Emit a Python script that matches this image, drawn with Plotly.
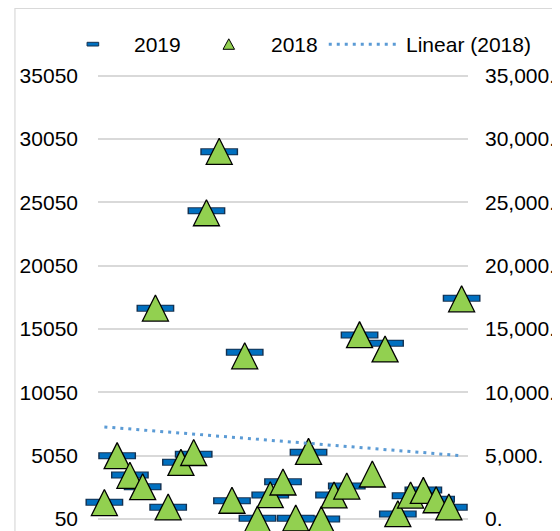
import plotly.graph_objects as go
import numpy as np

# ---------------- data ----------------
categories = list(range(1, 30))

# 2018 series (primary / left axis scale)
values_2018 = [1350, 5050, 3500, 2600, 16700, 1000, 4520, 5300, 24220, 29070,
               1530, 12930, 50, 1970, 2970, 130, 5390, 0, 1950, 2650,
               14600, 3600, 13470, 470, 1940, 2310, 1570, 1000, 17430]

# 2019 series (left axis scale)
values_2019 = [1370, 5050, 3520, 2600, 16680, 970, 4530, 5160, 24380, 29040,
               1490, 13210, 110, 1940, 2990, 110, 5310, 50, 1950, 2650,
               14570, None, 13920, 450, 1890, 2340, 1610, 970, 17470]

left_ticks = [50, 5050, 10050, 15050, 20050, 25050, 30050, 35050]
left_labels = ["50", "5050", "10050", "15050", "20050", "25050", "30050", "35050"]
right_ticks = [0, 5000, 10000, 15000, 20000, 25000, 30000, 35000]
right_labels = ["0.", "5,000.", "10,000.", "15,000.", "20,000.", "25,000.", "30,000.", "35,000."]

legend_names = ["2019", "2018", "Linear (2018)"]

# linear trendline of the 2018 series
slope, intercept = np.polyfit(categories, values_2018, 1)
trend_x = [categories[0], categories[-1]]
trend_y = [slope * x + intercept for x in trend_x]

# ---------------- layout geometry ----------------
OFF = 8                      # page body margin of the written html
W, H = 620, 580              # larger than the window: the picture is cropped by it
ML, MT = 96 - OFF, 70 - OFF
plot_w, plot_h = 372, 461
MR = W - ML - plot_w
MB = H - MT - plot_h
y_lo, y_hi = -897, 35485           # left axis range
px_per_unit = plot_h / (y_hi - y_lo)
tri_size = 26
tri_shift = (tri_size / 2) / px_per_unit   # centre the apex-anchored triangle

FONT = "Liberation Sans, Arial, sans-serif"
FS = 21
BLUE = "#0070C0"
NAVY = "#14304F"
GREEN = "#92D050"
TREND = "#5B9BD5"
GRID = "#D9D9D9"


def px(xp):
    """screen x (reference picture) -> paper x"""
    return (xp - OFF - ML) / plot_w


def py(yp):
    """screen y (reference picture) -> paper y"""
    return (MT + plot_h - (yp - OFF)) / plot_h


fig = go.Figure()

# 2019 dash markers (outline + fill)
fig.add_trace(go.Scatter(
    x=categories, y=values_2019, mode="markers", name=legend_names[0],
    yaxis="y", showlegend=False, cliponaxis=False,
    marker=dict(symbol="line-ew", size=27, color=NAVY,
                line=dict(width=7, color=NAVY))))
fig.add_trace(go.Scatter(
    x=categories, y=values_2019, mode="markers", name=legend_names[0],
    yaxis="y", showlegend=False, cliponaxis=False,
    marker=dict(symbol="line-ew", size=25, color=BLUE,
                line=dict(width=5, color=BLUE))))

# empty trace so that the secondary (right) axis is drawn
fig.add_trace(go.Scatter(x=[None], y=[None], yaxis="y2", mode="markers",
                         showlegend=False, hoverinfo="skip"))

# 2018 triangles
fig.add_trace(go.Scatter(
    x=categories, y=values_2018, mode="markers", name=legend_names[1],
    yaxis="y3", showlegend=False, cliponaxis=False,
    marker=dict(symbol="arrow-up", size=tri_size, color=GREEN,
                line=dict(width=1.3, color="#000000"))))

# trendline
fig.add_trace(go.Scatter(
    x=trend_x, y=trend_y, mode="lines", name=legend_names[2],
    yaxis="y4", showlegend=False,
    line=dict(color=TREND, width=3, dash="3px,5px")))

fig.update_layout(
    width=W, height=H, autosize=False,
    margin=dict(l=ML, r=MR, t=MT, b=MB, pad=0),
    paper_bgcolor="white", plot_bgcolor="white",
    showlegend=False,
    font=dict(family=FONT, size=FS, color="#000000"),
    xaxis=dict(range=[0.5, 29.5], visible=False, showgrid=False, zeroline=False),
    yaxis=dict(range=[y_lo, y_hi], tickvals=left_ticks, ticktext=left_labels,
               showgrid=True, gridcolor=GRID, gridwidth=1.5, zeroline=False,
               showline=False, ticks="", ticklabelstandoff=19,
               ticklabeloverflow="allow",
               tickfont=dict(family=FONT, size=FS, color="#000000")),
    yaxis2=dict(range=[y_lo - 50, y_hi - 50], tickvals=right_ticks, ticktext=right_labels,
                overlaying="y", side="right", anchor="x",
                showgrid=False, zeroline=False, showline=False, ticks="",
                ticklabelstandoff=16, ticklabeloverflow="allow",
                tickfont=dict(family=FONT, size=FS, color="#000000")),
    yaxis3=dict(range=[y_lo - tri_shift, y_hi - tri_shift], overlaying="y",
                anchor="x", visible=False),
    yaxis4=dict(range=[y_lo, y_hi], overlaying="y", anchor="x", visible=False),
)

# chart-area border
fig.add_shape(type="rect", xref="paper", yref="paper", layer="below",
              x0=px(12.5), x1=px(600), y0=py(600), y1=py(8.5),
              line=dict(color=GRID, width=1.2), fillcolor="rgba(0,0,0,0)")

# legend glyphs
fig.add_shape(type="rect", xref="paper", yref="paper",
              x0=px(85), x1=px(96.7), y0=py(46), y1=py(42.3),
              line=dict(color=NAVY, width=1), fillcolor=BLUE)
fig.add_shape(type="path", xref="paper", yref="paper",
              path="M {} {} L {} {} L {} {} Z".format(px(221.7), py(49.3), px(233.3), py(49.3),
                                                    px(227.5), py(38.8)),
              line=dict(color="#000000", width=1), fillcolor=GREEN)
fig.add_shape(type="line", xref="paper", yref="paper",
              x0=px(328), x1=px(397), y0=py(44.3), y1=py(44.3),
              line=dict(color=TREND, width=3, dash="3px,5px"))

for name, xs in zip(legend_names, [130.5, 268, 403.5]):
    fig.add_annotation(text=name, xref="paper", yref="paper", x=px(xs), y=py(44.7),
                       xanchor="left", yanchor="middle", showarrow=False,
                       font=dict(family=FONT, size=FS, color="#000000"))

fig.write_html("out.html")
